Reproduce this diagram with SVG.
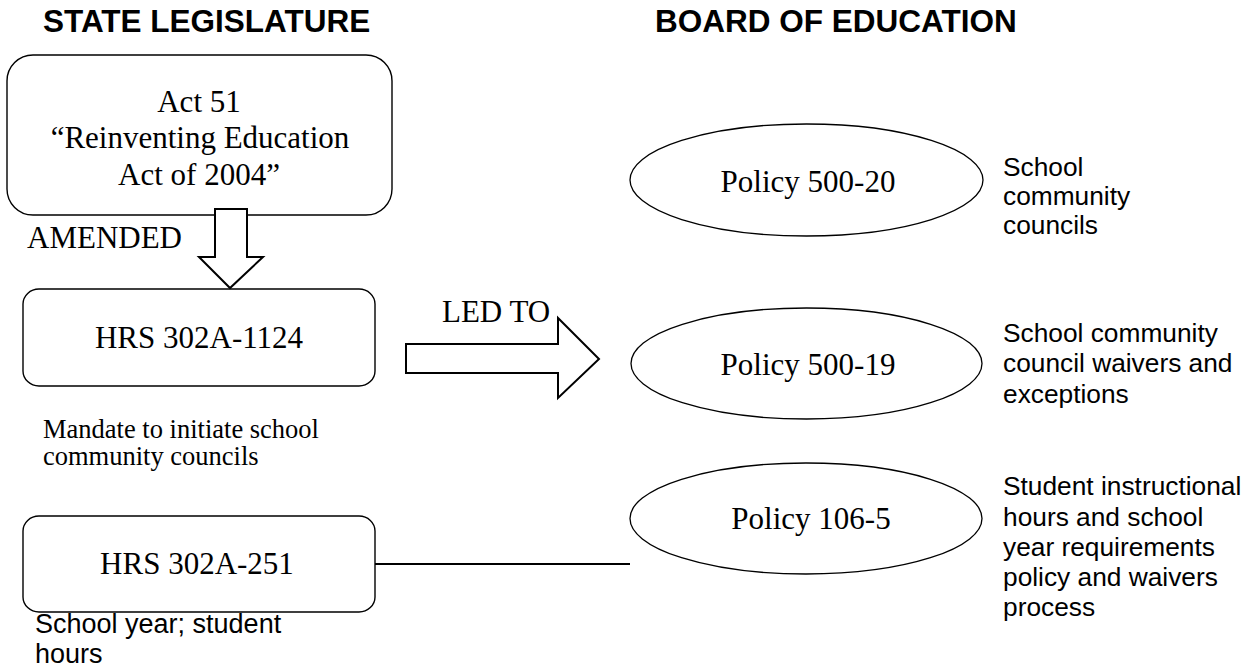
<svg xmlns="http://www.w3.org/2000/svg" width="1257" height="669" viewBox="0 0 1257 669">
<style>
.bg{fill:#fff}
.box{fill:#fff;stroke:#000;stroke-width:1.4}
.ell{fill:#fff;stroke:#000;stroke-width:1.3}
.arrow{fill:#fff;stroke:#000;stroke-width:2;stroke-linejoin:miter}
.line{fill:none;stroke:#000;stroke-width:2}
.hdr{font-family:"Liberation Sans",Arial,sans-serif;font-weight:bold;font-size:31.5px;fill:#000}
.ser{font-family:"Liberation Serif","Times New Roman",serif;font-size:31px;fill:#000}
.sers{font-family:"Liberation Serif","Times New Roman",serif;font-size:26.5px;fill:#000}
.san{font-family:"Liberation Sans",Arial,sans-serif;font-size:26.3px;fill:#000}
.san27{font-family:"Liberation Sans",Arial,sans-serif;font-size:27px;fill:#000}
.mid{text-anchor:middle}
</style>
<rect class="bg" x="0" y="0" width="1257" height="669"/>
<g id="headers">
<text class="hdr" x="43" y="32">STATE LEGISLATURE</text>
<text class="hdr" x="655" y="32">BOARD OF EDUCATION</text>
</g>
<g id="act51">
<rect class="box" x="7" y="55" width="385" height="160" rx="26" ry="26"/>
<text class="ser mid" x="199" y="112">Act 51</text>
<text class="ser mid" x="200" y="148">“Reinventing Education</text>
<text class="ser mid" x="199" y="185">Act of 2004”</text>
</g>
<g id="hrs1124">
<rect class="box" x="23" y="289" width="352" height="97" rx="16" ry="15"/>
<text class="ser mid" x="199" y="348">HRS 302A-1124</text>
</g>
<g id="hrs1124-note">
<text class="sers" x="43" y="438">Mandate to initiate school</text>
<text class="sers" x="43" y="465">community councils</text>
</g>
<g id="hrs251">
<rect class="box" x="23" y="516" width="352" height="96" rx="16" ry="15"/>
<text class="ser mid" x="197" y="574">HRS 302A-251</text>
</g>
<g id="hrs251-note">
<text class="san27" x="35" y="633">School year; student</text>
<text class="san27" x="35" y="663">hours</text>
</g>
<g id="policy500-20">
<ellipse class="ell" cx="806.5" cy="180" rx="176.5" ry="56"/>
<text class="ser mid" x="808" y="192">Policy 500-20</text>
</g>
<g id="policy500-20-note">
<text class="san" x="1003" y="176">School</text>
<text class="san" x="1003" y="205">community</text>
<text class="san" x="1003" y="234">councils</text>
</g>
<g id="policy500-19">
<ellipse class="ell" cx="806.5" cy="363.5" rx="175.5" ry="55.5"/>
<text class="ser mid" x="808" y="375">Policy 500-19</text>
</g>
<g id="policy500-19-note">
<text class="san" x="1003" y="342">School community</text>
<text class="san" x="1003" y="372">council waivers and</text>
<text class="san" x="1003" y="403">exceptions</text>
</g>
<g id="policy106-5">
<ellipse class="ell" cx="806" cy="518.5" rx="176" ry="55.5"/>
<text class="ser mid" x="811" y="529">Policy 106-5</text>
</g>
<g id="policy106-5-note">
<text class="san" x="1003" y="495">Student instructional</text>
<text class="san" x="1003" y="526">hours and school</text>
<text class="san" x="1003" y="556">year requirements</text>
<text class="san" x="1003" y="586">policy and waivers</text>
<text class="san" x="1003" y="616">process</text>
</g>
<g id="connectors">
<polygon class="arrow" points="215,209 247,209 247,257 263,257 230,288 199,257 215,257"/>
<text class="ser" x="27" y="248">AMENDED</text>
<polygon class="arrow" points="406,344 558,344 558,318 599,359 558,398 558,373 406,373"/>
<text class="ser" x="442" y="322">LED TO</text>
<line class="line" x1="375" y1="564" x2="630" y2="564"/>
</g>
</svg>
